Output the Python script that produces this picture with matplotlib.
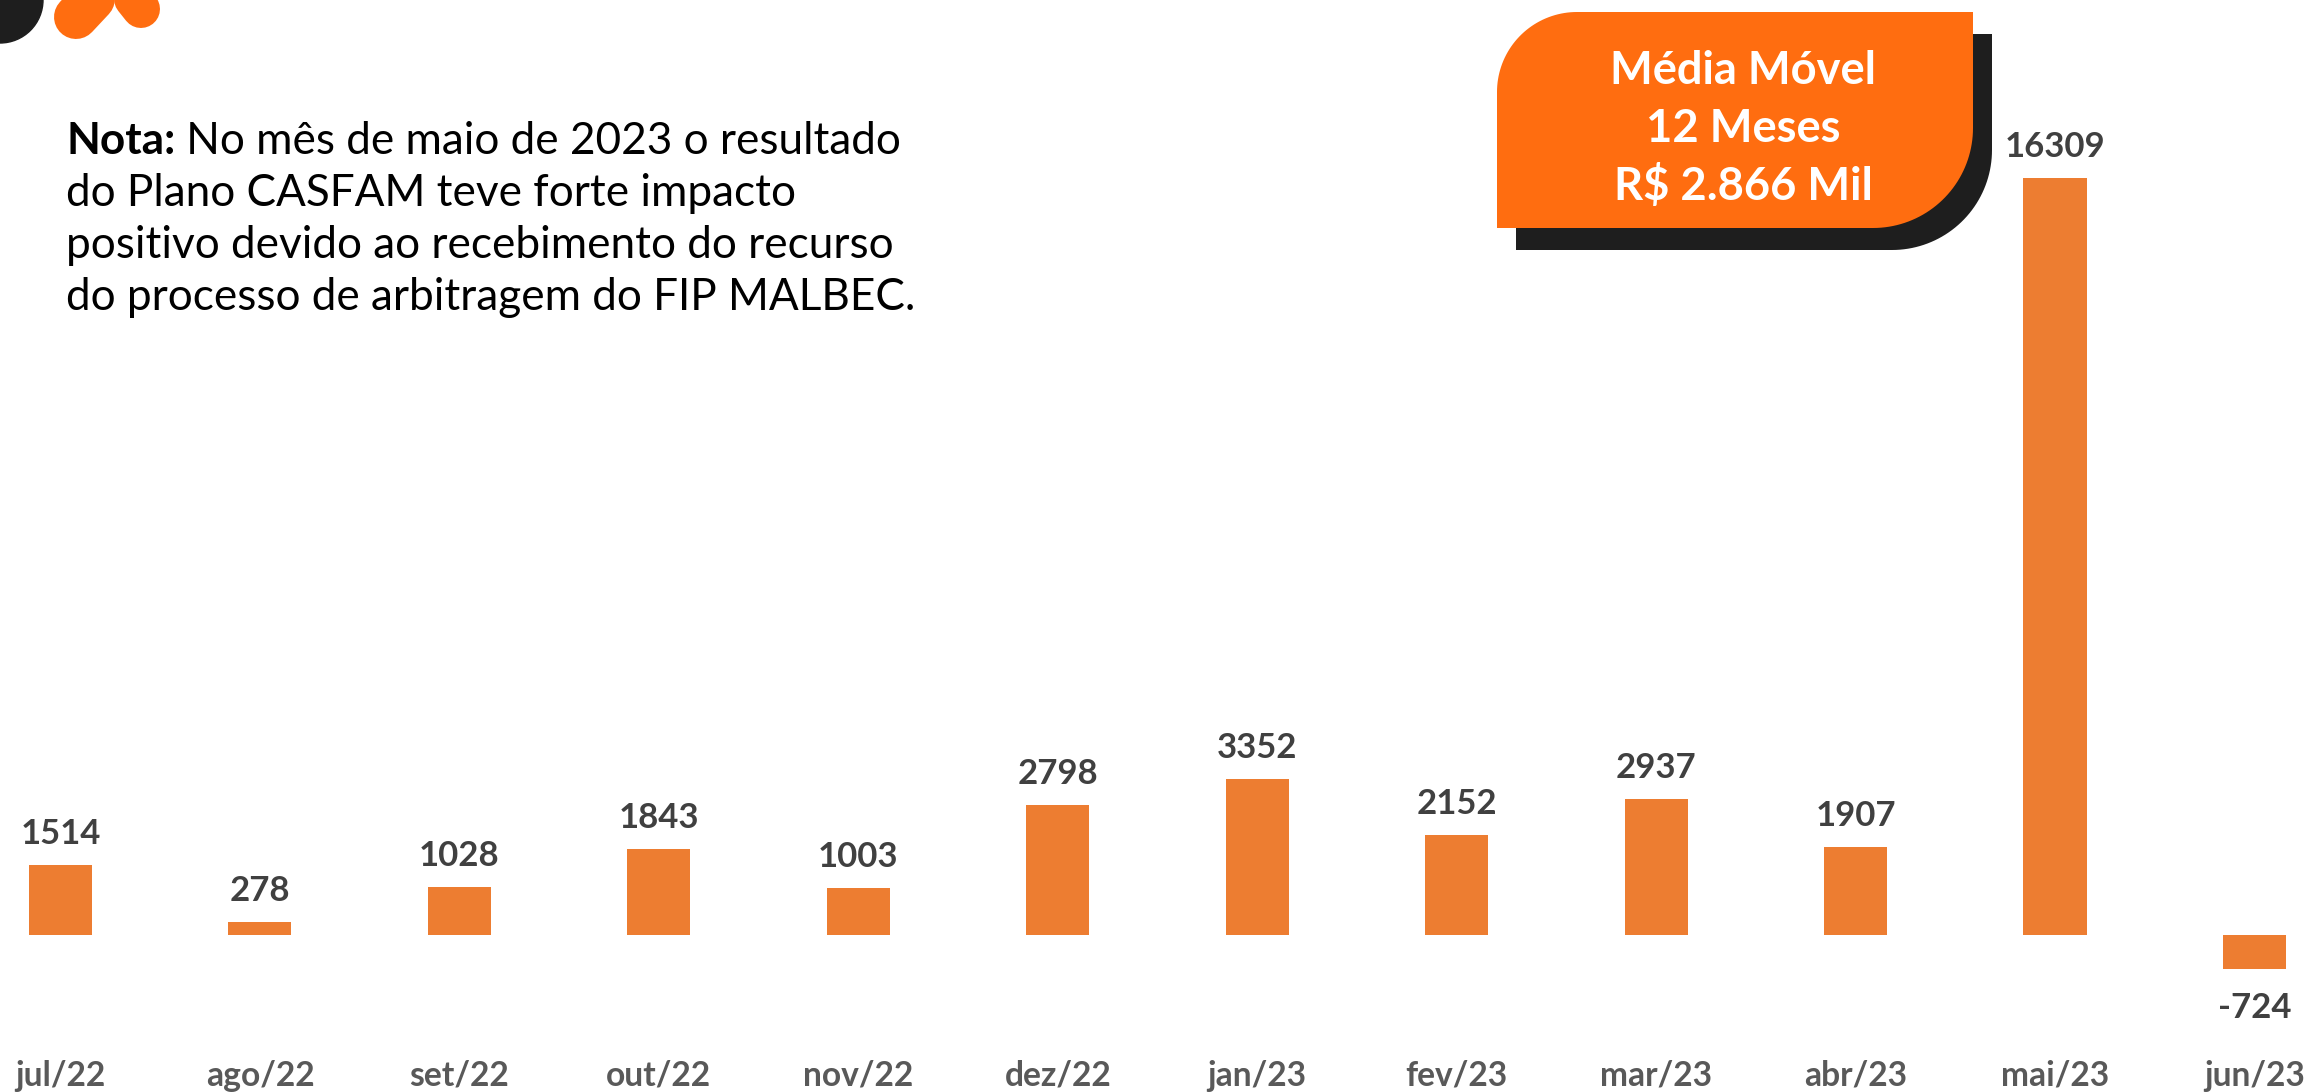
import matplotlib
matplotlib.use("Agg")
import matplotlib.pyplot as plt
import numpy as np
from matplotlib.patches import Polygon, Circle
from matplotlib.lines import Line2D

# ---------------- data ----------------
months = ["jul/22", "ago/22", "set/22", "out/22", "nov/22", "dez/22",
          "jan/23", "fev/23", "mar/23", "abr/23", "mai/23", "jun/23"]
values = [1514, 278, 1028, 1843, 1003, 2798, 3352, 2152, 2937, 1907, 16309, -724]

note_bold = "Nota:"
note_lines = [" No mês de maio de 2023 o resultado",
              "do Plano CASFAM teve forte impacto",
              "positivo devido ao recebimento do recurso",
              "do processo de arbitragem do FIP MALBEC."]
box_lines = ["Média Móvel", "12 Meses", "R$ 2.866 Mil"]

# ---------------- style ----------------
W, H, DPI = 2310, 1092, 100
BAR = "#ED7D31"
VAL = "#404040"
TICK = "#595959"
ORANGE = "#FF6D10"
DARK = "#1E1E1E"
FONT = "Lato"
plt.rcParams["font.family"] = [FONT, "DejaVu Sans"]

fig = plt.figure(figsize=(W / DPI, H / DPI), dpi=DPI)
fig.patch.set_facecolor("white")

# ---------------- bar chart ----------------
ax_bottom_px = 1040
base_px = 935
px_per_unit = 0.0464
first_px, step_px = 60.5, 199.45

ax = fig.add_axes([0, (H - ax_bottom_px) / H, 1, ax_bottom_px / H], zorder=1)
ax.set_facecolor("none")
x = np.arange(len(months))
ax.bar(x, values, width=0.316, color=BAR, zorder=2)
ax.set_xlim(-first_px / step_px, (W - first_px) / step_px)
ax.set_ylim(-(ax_bottom_px - base_px) / px_per_unit, base_px / px_per_unit)
for s in ax.spines.values():
    s.set_visible(False)
ax.set_yticks([])
ax.set_xticks(x, months)
ax.tick_params(axis="x", length=0, pad=14.3, labelsize=24.2, labelcolor=TICK)
for lab in ax.get_xticklabels():
    lab.set_fontweight("bold")

pt = 72 / DPI
for xi, v in zip(x, values):
    if v >= 0:
        off = 21 * pt
    else:
        off = -49 * pt
    ax.annotate(f"{v}", (xi, v), xytext=(0, off), textcoords="offset points",
                ha="center", va="baseline", fontsize=25, fontweight="bold",
                color=VAL)

# ---------------- overlay (pixel coordinates) ----------------
ov = fig.add_axes([0, 0, 1, 1], zorder=3)
ov.set_xlim(0, W)
ov.set_ylim(H, 0)
ov.axis("off")
ov.set_facecolor("none")

# logo fragment
ov.add_patch(Circle((0, 0), 43, color=DARK, zorder=3))
ov.add_line(Line2D([76, 120], [17, -30], color=ORANGE, lw=44 * pt,
                   solid_capstyle="round", zorder=3))
ov.add_line(Line2D([141, 110], [9, -30], color=ORANGE, lw=38 * pt,
                   solid_capstyle="round", zorder=3))


def rounded_box(x0, y0, x1, y1, r_tl, r_br, n=40):
    pts = []
    a = np.linspace(np.pi, 1.5 * np.pi, n)
    cx, cy = x0 + r_tl, y0 + r_tl
    pts += list(zip(cx + r_tl * np.cos(a), cy + r_tl * np.sin(a)))
    pts.append((x1, y0))
    a = np.linspace(0, 0.5 * np.pi, n)
    cx, cy = x1 - r_br, y1 - r_br
    pts += list(zip(cx + r_br * np.cos(a), cy + r_br * np.sin(a)))
    pts.append((x0, y1))
    return np.array(pts)


ov.add_patch(Polygon(rounded_box(1516, 34, 1992, 250, 80, 100), closed=True,
                     facecolor=DARK, edgecolor="none", zorder=4))
ov.add_patch(Polygon(rounded_box(1497, 12, 1973, 228, 80, 100), closed=True,
                     facecolor=ORANGE, edgecolor="none", zorder=5))
for line, yb in zip(box_lines, [84, 142, 200]):
    ov.text(1743, yb, line, ha="center", va="baseline", color="white",
            fontsize=32.6, fontweight="bold", zorder=6)

# note text
note_size = 31.8
t = ov.text(66, 154, note_bold, ha="left", va="baseline", fontsize=note_size,
            fontweight="bold", color="black", zorder=6)
renderer = fig.canvas.get_renderer()
wb = t.get_window_extent(renderer).width
ov.text(66 + wb, 154, note_lines[0], ha="left", va="baseline",
        fontsize=note_size, color="black", zorder=6)
for k, line in enumerate(note_lines[1:], start=1):
    ov.text(66, 154 + 52 * k, line, ha="left", va="baseline",
            fontsize=note_size, color="black", zorder=6)

fig.savefig("out.png", dpi=DPI, facecolor="white")
